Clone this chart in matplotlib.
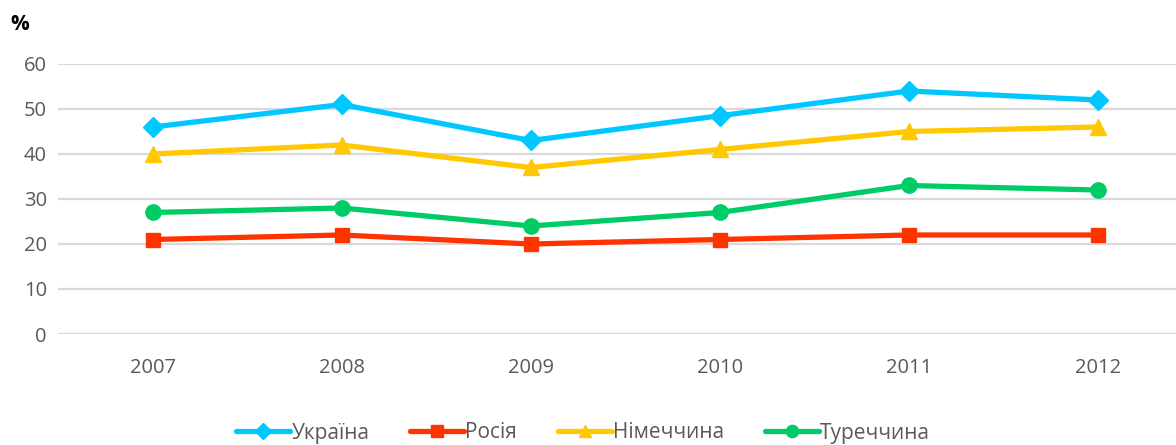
import matplotlib
matplotlib.use("Agg")
import matplotlib.pyplot as plt

years = ["2007", "2008", "2009", "2010", "2011", "2012"]
ukraine = [46, 51, 43, 48.5, 54, 52]
russia = [21, 22, 20, 21, 22, 22]
germany = [40, 42, 37, 41, 45, 46]
turkey = [27, 28, 24, 27, 33, 32]

series = [
    ("Україна", ukraine, "#00C8FF", "D", 10),
    ("Росія", russia, "#FF3300", "s", 10.5),
    ("Німеччина", germany, "#FFC800", "^", 11),
    ("Туреччина", turkey, "#00CC66", "o", 11),
]

plt.rcParams["font.family"] = ["Open Sans", "DejaVu Sans"]

fig = plt.figure(figsize=(11.76, 4.45), dpi=100)
ax = fig.add_axes([58 / 1176, 1 - 334 / 445, 1 - 58 / 1176, (334 - 64) / 445])

x = list(range(len(years)))
for name, vals, color, marker, ms in series:
    ax.plot(x, vals, color=color, lw=3.8, marker=marker, markersize=ms,
            label=name, solid_capstyle="round", zorder=3)

ax.set_xlim(-0.5, (1176 - 153) / 189)
ax.set_ylim(0, 60)
ax.set_yticks(range(0, 61, 10))
ax.set_xticks(x)
ax.set_xticklabels(years)
ax.grid(axis="y", color="#d9d9d9", lw=1.6)
ax.set_axisbelow(True)
for s in ax.spines.values():
    s.set_visible(False)
ax.tick_params(axis="both", length=0, colors="#595959", labelsize=14.5)
ax.tick_params(axis="x", pad=17)
ax.tick_params(axis="y", pad=8)

fig.text(10 / 1176, 1 - 25 / 445, "%", fontsize=15, fontweight="bold",
         color="#000000", va="center", ha="left")

fig.legend(loc="center", bbox_to_anchor=(583 / 1176, 1 - 433 / 445), ncol=4,
           frameon=False, fontsize=15, handlelength=2.6, handletextpad=0.05,
           columnspacing=1.95, labelcolor="#595959", markerscale=0.8)

fig.savefig("out.png", dpi=100)
